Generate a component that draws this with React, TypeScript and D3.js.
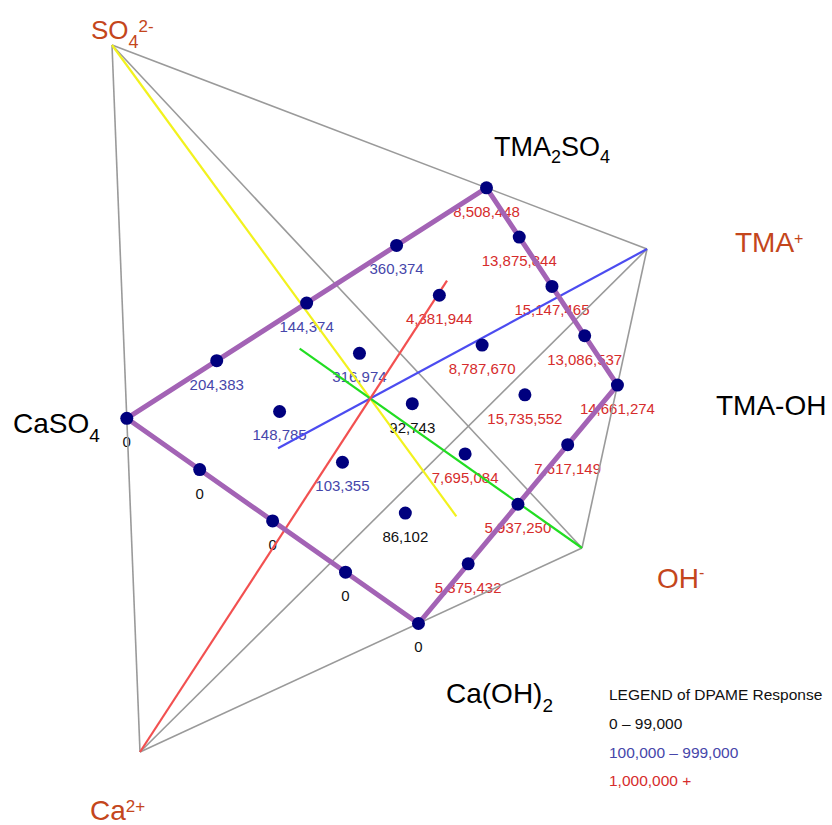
import * as d3 from "d3";

// tetrahedron corners (ions) and the compositions measured on the electroneutral plane
const ions = ["SO4", "TMA", "OH", "Ca"];
// cation share of TMA (CaSO4 -> TMA2SO4) and anion share of OH (CaSO4 -> Ca(OH)2)
const tmaShare = [0, 0.25, 0.5, 0.75, 1];
const ohShare = [0, 0.25, 0.5, 0.75, 1];
// DPAME response, rows follow ohShare, columns follow tmaShare
const dpame = [
  [0, 204383, 144374, 360374, 8508448],
  [0, 148785, 316974, 4381944, 13875844],
  [0, 103355, 92743, 8787670, 15147465],
  [0, 86102, 7695084, 15735552, 13086537],
  [0, 5375432, 5937250, 7617149, 14661274],
];
const legendLabels = ["0 – 99,000", "100,000 – 999,000", "1,000,000 +"];
const legendBreaks = [100000, 1000000];

const W = 832;
const H = 825;
const FONT = "'Liberation Sans', Arial, Helvetica, sans-serif";
const ionColor = "#c4461c";
const levelColors = ["#111111", "#4646aa", "#d62c2c"];
const lineColors: Record<string, string> = { SO4: "#f2f21e", TMA: "#4c4cf0", OH: "#22dd22", Ca: "#f25050" };

type P = [number, number];

// parallel projection of the tetrahedron
const corner: Record<string, P> = {
  SO4: [112, 45],
  TMA: [647, 249],
  OH: [582, 548],
  Ca: [140, 752],
};

const lerp = (a: P, b: P, t: number): P => [
  d3.interpolateNumber(a[0], b[0])(t),
  d3.interpolateNumber(a[1], b[1])(t),
];

// salts sit on the edges of the tetrahedron
const saltA = lerp(corner.SO4, corner.Ca, 0.528); // CaSO4
const saltB = lerp(corner.SO4, corner.TMA, 0.7); // TMA2SO4
const saltC = lerp(corner.TMA, corner.OH, 0.455); // TMA-OH
const saltD = lerp(corner.Ca, corner.OH, 0.63); // Ca(OH)2

const plane = (u: number, v: number): P => lerp(lerp(saltA, saltB, u), lerp(saltD, saltC, u), v);

const level = d3.scaleThreshold<number, string>().domain(legendBreaks).range(levelColors);
const fmt = d3.format(",");

export default function App() {
  const edges: [P, P][] = [];
  ions.forEach((a, i) => ions.slice(i + 1).forEach((b) => edges.push([corner[a], corner[b]])));

  const medians = ions.map((ion) => {
    const others = ions.filter((o) => o !== ion).map((o) => corner[o]);
    const c: P = [d3.mean(others, (p) => p[0])!, d3.mean(others, (p) => p[1])!];
    return { ion, from: corner[ion], to: c };
  });

  const square = [saltA, saltB, saltC, saltD];
  const line = d3.line();

  const points = ohShare.flatMap((v, r) =>
    tmaShare.map((u, c) => {
      const [x, y] = plane(u, v);
      return { x, y, value: dpame[r][c] };
    })
  );

  return (
    <svg
      width={W}
      height={H}
      style={{ position: "absolute", left: 0, top: 0, background: "#fff" }}
      fontFamily={FONT}
    >
      <g fontSize={15} textAnchor="middle">
        {points.map((p, i) => (
          <text key={i} x={p.x} y={p.y + 29} fill={level(p.value)}>
            {fmt(p.value)}
          </text>
        ))}
      </g>
      <g stroke="#9a9a9a" strokeWidth={1.6}>
        {edges.map(([a, b], i) => (
          <line key={i} x1={a[0]} y1={a[1]} x2={b[0]} y2={b[1]} />
        ))}
      </g>
      <g strokeWidth={2.2}>
        {medians.map((m) => (
          <line key={m.ion} x1={m.from[0]} y1={m.from[1]} x2={m.to[0]} y2={m.to[1]} stroke={lineColors[m.ion]} />
        ))}
      </g>
      <path
        d={line(square)! + "Z"}
        fill="none"
        stroke="#a363b5"
        strokeWidth={5}
        strokeLinejoin="round"
      />
      <g fill="#00007e">
        {points.map((p, i) => (
          <circle key={i} cx={p.x} cy={p.y} r={6.5} />
        ))}
      </g>

      {/* ion corners */}
      <text x={91} y={39} fontSize={26} fill={ionColor}>
        SO<tspan fontSize={18} dy={9}>4</tspan>
        <tspan fontSize={17} dy={-16}>2-</tspan>
      </text>
      <text x={735} y={252} fontSize={28} fill={ionColor}>
        TMA<tspan fontSize={16} dy={-8}>+</tspan>
      </text>
      <text x={657} y={588} fontSize={28} fill={ionColor}>
        OH<tspan fontSize={16} dy={-10}>-</tspan>
      </text>
      <text x={90} y={820} fontSize={28} fill={ionColor}>
        Ca<tspan fontSize={17} dy={-8}>2+</tspan>
      </text>

      {/* salts */}
      <g fill="#000" fontSize={28}>
        <text x={494} y={156} fontSize={27}>
          TMA<tspan fontSize={18} dy={7}>2</tspan>
          <tspan dy={-7}>SO</tspan>
          <tspan fontSize={18} dy={7}>4</tspan>
        </text>
        <text x={716} y={415}>TMA-OH</text>
        <text x={13} y={433}>
          CaSO<tspan fontSize={19} dy={9}>4</tspan>
        </text>
        <text x={446} y={703}>
          Ca(OH)<tspan fontSize={19} dy={9}>2</tspan>
        </text>
      </g>

      {/* legend */}
      <g fontSize={15.5}>
        <text x={609} y={700} fill="#111">
          LEGEND of DPAME Response
        </text>
        {legendLabels.map((t, i) => (
          <text key={t} x={609} y={729 + i * 28.6} fill={levelColors[i]}>
            {t}
          </text>
        ))}
      </g>
    </svg>
  );
}
